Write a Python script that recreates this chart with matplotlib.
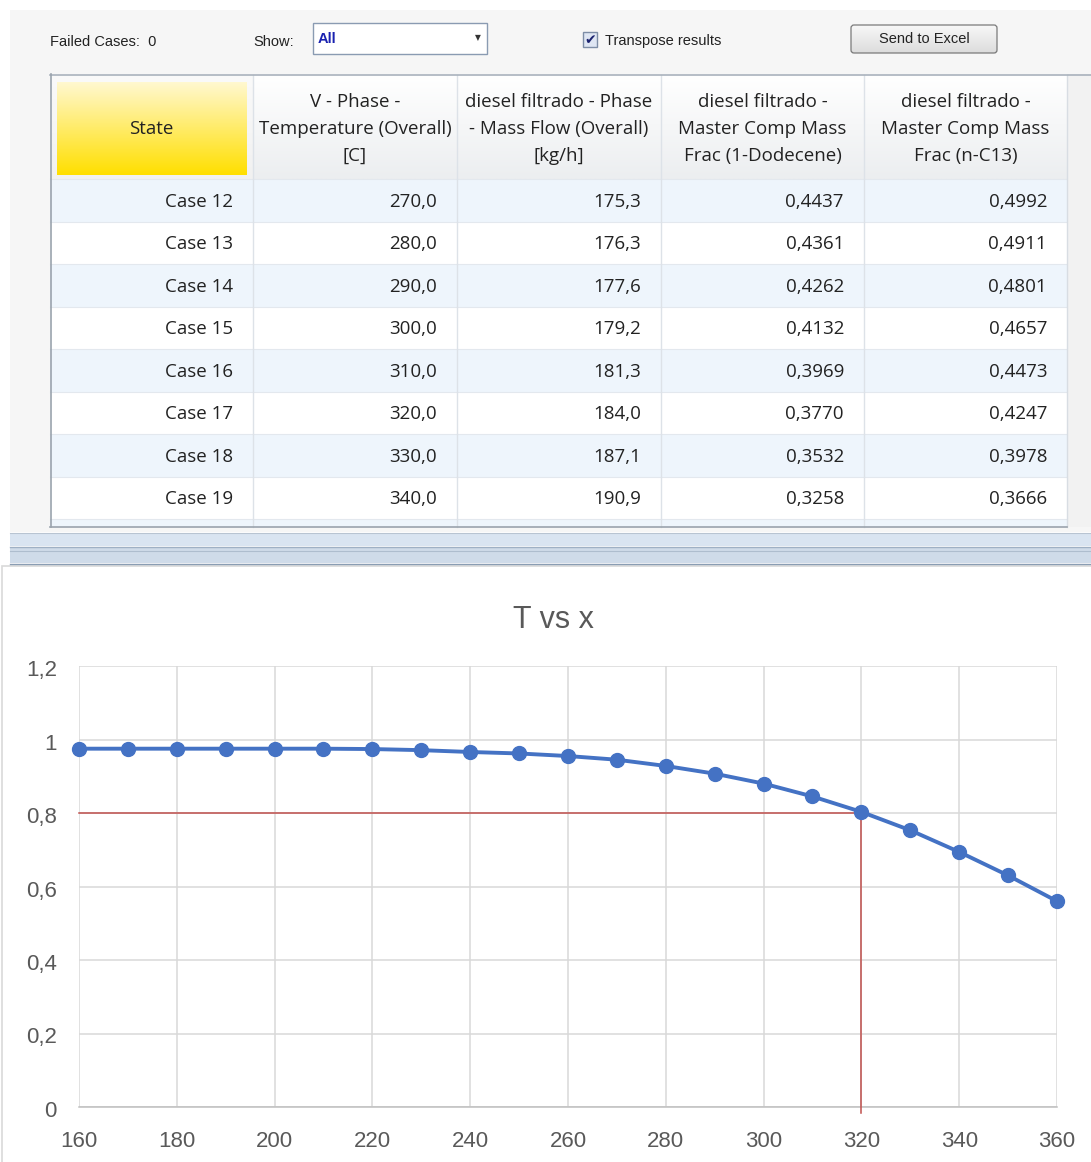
# -*- coding: utf-8 -*-
"""
Case study screenshot: results table on top, Excel-style "T vs x" chart below.
"""
import numpy as np
import matplotlib
matplotlib.use('Agg')
import matplotlib.pyplot as plt
import matplotlib.patches as mpatches
import matplotlib.transforms as mtransforms
from matplotlib.ticker import MultipleLocator, FuncFormatter

# ---- table data ----
states = ['Case 12', 'Case 13', 'Case 14', 'Case 15',
          'Case 16', 'Case 17', 'Case 18', 'Case 19']
temperature = [270.0, 280.0, 290.0, 300.0, 310.0, 320.0, 330.0, 340.0]
mass_flow = [175.3, 176.3, 177.6, 179.2, 181.3, 184.0, 187.1, 190.9]
frac_dodecene = [0.4437, 0.4361, 0.4262, 0.4132, 0.3969, 0.3770, 0.3532, 0.3258]
frac_nc13 = [0.4992, 0.4911, 0.4801, 0.4657, 0.4473, 0.4247, 0.3978, 0.3666]
headers = ['State',
           'V - Phase -\nTemperature (Overall)\n[C]',
           'diesel filtrado - Phase\n- Mass Flow (Overall)\n[kg/h]',
           'diesel filtrado -\nMaster Comp Mass\nFrac (1-Dodecene)',
           'diesel filtrado -\nMaster Comp Mass\nFrac (n-C13)']

# ---- chart data ----
chart_title = 'T vs x'
temps = [160, 170, 180, 190, 200, 210, 220, 230, 240, 250, 260,
         270, 280, 290, 300, 310, 320, 330, 340, 350, 360]
x_frac = [0.975, 0.975, 0.975, 0.975, 0.975, 0.975, 0.974, 0.971, 0.966, 0.962, 0.955,
          0.945, 0.928, 0.907, 0.880, 0.845, 0.803, 0.753, 0.694, 0.630, 0.560]
ref_x = [160, 320, 320]
ref_y = [0.8, 0.8, -0.016]

W, H = 1091, 1162
ui_font = ['Open Sans', 'DejaVu Sans']
narrow = ['Liberation Sans Narrow', 'Liberation Sans', 'DejaVu Sans']

fig = plt.figure(figsize=(W / 100, H / 100), dpi=100)
fig.patch.set_facecolor('white')

bg = fig.add_axes([0, 0, 1, 1])
bg.set_xlim(0, W)
bg.set_ylim(H, 0)
bg.axis('off')


def rect(x0, y0, x1, y1, fc, ec='none', lw=0, z=1):
    bg.add_patch(mpatches.Rectangle((x0, y0), x1 - x0, y1 - y0, facecolor=fc,
                                    edgecolor=ec, linewidth=lw, zorder=z))


def vgrad(x0, y0, x1, y1, top, bottom, z=2):
    c0 = np.array(matplotlib.colors.to_rgb(top))
    c1 = np.array(matplotlib.colors.to_rgb(bottom))
    t = np.linspace(0, 1, 64)[:, None]
    img = (c0 * (1 - t) + c1 * t)[:, None, :]
    bg.imshow(img, extent=(x0, x1, y1, y0), aspect='auto', zorder=z,
              interpolation='bilinear')


# panel background
rect(10, 10, W, 532, '#f6f6f6')

# toolbar
bg.text(50, 42, 'Failed Cases:  0', fontsize=10.5, family=narrow, color='#222222',
        va='center', ha='left', zorder=5)
bg.text(253, 42, 'Show:', fontsize=10.5, family=narrow, color='#222222',
        va='center', ha='left', zorder=5)
rect(313, 23, 487, 54, 'white', '#8a9bb2', 1, z=3)
bg.text(318, 39, 'All', fontsize=10.5, family=narrow, weight='bold', color='#1a22b0',
        va='center', ha='left', zorder=5)
bg.text(478, 38, '\u25BC', fontsize=5.5, family='DejaVu Sans', color='#333333',
        va='center', ha='center', zorder=5)
rect(583, 32, 597, 47, '#dfe6f3', '#7d8da6', 1, z=3)
bg.text(590, 40, '\u2714', fontsize=10, family='DejaVu Sans', color='#1c2470',
        va='center', ha='center', zorder=5)
bg.text(605, 41, 'Transpose results', fontsize=10.5, family=narrow, color='#222222',
        va='center', ha='left', zorder=5)
vgrad(851, 25, 997, 53, '#f8f8f8', '#dcdcdc', z=3)
bg.add_patch(mpatches.FancyBboxPatch((851, 25), 146, 28,
                                     boxstyle='round,pad=0,rounding_size=3',
                                     facecolor='none', edgecolor='#7a7a7a',
                                     linewidth=0.9, zorder=4))
bg.text(924, 39, 'Send to Excel', fontsize=10.5, family=narrow, color='#222222',
        va='center', ha='center', zorder=5)

# table
col_edges = [50, 253, 457, 661, 864, 1067]
row_top = 179
row_h = 42.5
tbl_bottom = 527

rect(50, 74, 1067, tbl_bottom, 'white', z=2)
rect(1067, 74, 1091, tbl_bottom, '#f2f2f2', z=2)
# header
for j in range(len(headers)):
    x0, x1 = col_edges[j], col_edges[j + 1]
    if j == 0:
        vgrad(x0, 75, x1, row_top, '#fafafa', '#f1f1f1', z=3)
        vgrad(57, 82, 247, 175, '#fff8cf', '#ffdf00', z=3.5)
    else:
        vgrad(x0, 75, x1, row_top, '#ffffff', '#eceef0', z=3)
    bg.text((x0 + x1) / 2, 129, headers[j], fontsize=13.5, family=ui_font,
            color='#222222', ha='center', va='center', linespacing=1.66, zorder=6)

# body rows (one extra partial row at the bottom)
n_rows = len(states)
for i in range(n_rows + 1):
    y0 = row_top + i * row_h
    y1 = min(y0 + row_h, tbl_bottom)
    fc = '#eef5fc' if i % 2 == 0 else 'white'
    rect(50, y0, 1067, y1, fc, z=2.5)
    bg.plot([50, 1067], [y0, y0], color='#e3e8ee', lw=0.8, zorder=3)

cells = [states,
         ['{:.1f}'.format(v).replace('.', ',') for v in temperature],
         ['{:.1f}'.format(v).replace('.', ',') for v in mass_flow],
         ['{:.4f}'.format(v).replace('.', ',') for v in frac_dodecene],
         ['{:.4f}'.format(v).replace('.', ',') for v in frac_nc13]]
for j, col in enumerate(cells):
    for i, s in enumerate(col):
        yc = row_top + (i + 0.5) * row_h + 1.5
        bg.text(col_edges[j + 1] - 20, yc, s, fontsize=13.5, family=ui_font,
                color='#222222', ha='right', va='center', zorder=6)

for x in col_edges[1:-1]:
    bg.plot([x, x], [75, tbl_bottom], color='#dde2e8', lw=1.0, zorder=4)
bg.plot([1067, 1067], [75, tbl_bottom], color='#d8dde3', lw=1.0, zorder=4)
# outer border
bg.plot([50, 1091], [74.5, 74.5], color='#a9b2bc', lw=1.2, zorder=5)
bg.plot([50.5, 50.5], [74, tbl_bottom], color='#9aa3ad', lw=1.2, zorder=5)
bg.plot([50, 1067], [tbl_bottom, tbl_bottom], color='#9aa3ad', lw=1.2, zorder=5)

# splitter stripes
rect(10, 533, W, 546, '#d9e4f1', z=2)
rect(10, 547, W, 563, '#cfdbe9', z=2)
bg.plot([10, W], [533, 533], color='#b8c4d2', lw=0.8, zorder=3)
bg.plot([10, W], [546.5, 546.5], color='#9fb0c4', lw=1.0, zorder=3)
bg.plot([10, W], [550.5, 550.5], color='#aebdce', lw=0.8, zorder=3)
bg.plot([10, W], [563.5, 563.5], color='#8a9db3', lw=1.0, zorder=3)

# chart frame
rect(2, 566, W + 5, H + 5, 'white', '#d9d9d9', 1.2, z=2)

# ---- chart ----
ax = fig.add_axes([79 / W, (H - 1107) / H, 978 / W, (1107 - 666) / H])
ax.set_facecolor('none')
ax.plot(temps, x_frac, color='#4472C4', lw=2.8, marker='o', markersize=10,
        zorder=4, clip_on=False)
ax.plot(ref_x, ref_y, color='#C0504D', lw=1.1, zorder=3, clip_on=False)

ax.set_xlim(160, 360)
ax.set_ylim(0, 1.2)
ax.xaxis.set_major_locator(MultipleLocator(20))
ax.yaxis.set_major_locator(MultipleLocator(0.2))
ax.yaxis.set_major_formatter(FuncFormatter(
    lambda v, p: ('0' if abs(v) < 1e-9 else '{:g}'.format(round(v, 1)).replace('.', ','))))
ax.grid(True, color='#d9d9d9', lw=1.1, zorder=0)
for s in ['top', 'right', 'left']:
    ax.spines[s].set_visible(False)
ax.spines['bottom'].set_color('#bfbfbf')
ax.spines['bottom'].set_linewidth(1.1)
ax.tick_params(length=0, colors='#595959', labelsize=16)
ax.tick_params(axis='x', pad=17)
ax.tick_params(axis='y', pad=16)
for lab in ax.get_xticklabels() + ax.get_yticklabels():
    lab.set_family(narrow)
# Excel draws the value labels a few pixels below their gridline
shift = mtransforms.ScaledTranslation(0, -0.02, fig.dpi_scale_trans)
for lab in ax.get_yticklabels():
    lab.set_transform(lab.get_transform() + shift)

# Excel centres the title on the whole chart area
fig.text(553 / W, 1 - 620 / H, chart_title, fontsize=22, family=narrow,
         color='#595959', ha='center', va='center')

fig.savefig('out.png', dpi=100)
